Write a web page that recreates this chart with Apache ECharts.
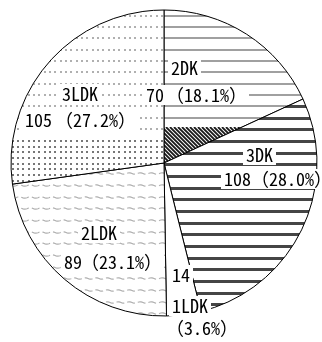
<!DOCTYPE html>
<html><head><meta charset="utf-8">
<script src="https://cdn.jsdelivr.net/npm/echarts@6/dist/echarts.min.js"></script>
<style>html,body{margin:0;padding:0;background:#fff}#c{width:322px;height:342px}</style>
</head><body><div id="c"></div>
<script>
// ---- data ----
const categories = ['2DK', '3DK', '1LDK', '2LDK', '3LDK'];
const counts = [70, 108, 14, 89, 105];

// ---- layout / style ----
const W = 322, H = 342;
const CX = 164, CY = 163, R = 153;
const FONT = "'Noto Sans Mono CJK JP','Noto Sans CJK JP',sans-serif";
// label anchor positions (left, middle) per category
const namePos  = [[168, 68], [243, 155], [169, 306], [78, 233], [59, 94]];
const valuePos = [[143, 95], [221, 179], [169, 275], [61, 262], [22, 120]];
const pctPos   = [[166, 95], [251, 179], [166, 328], [81, 262], [55, 120]];

function mk(draw) {
  const c = document.createElement('canvas');
  c.width = W; c.height = H;
  const g = c.getContext('2d');
  g.fillStyle = '#fff'; g.fillRect(0, 0, W, H);
  draw(g);
  return c;
}
const hatchTop = CY - 36, denseTop = CY - 23;
const pat2DK = mk(g => {
  g.fillStyle = '#a0a0a0';
  for (let y = 14.5; y < hatchTop - 4; y += 11.35) g.fillRect(0, Math.round(y), W, 2);
  g.save(); g.beginPath(); g.rect(0, hatchTop, W, H - hatchTop); g.clip();
  g.strokeStyle = '#1a1a1a'; g.lineWidth = 1.8;
  for (let k = -H; k < W; k += 4) { g.beginPath(); g.moveTo(k, hatchTop); g.lineTo(k + H, hatchTop + H); g.stroke(); }
  g.restore();
});
const pat3DK = mk(g => {
  g.fillStyle = '#454545';
  for (let y = 105 - 11.67 * 9; y < H; y += 11.67) g.fillRect(0, Math.round(y), W, 3);
});
const pat1LDK = mk(g => {});
const pat2LDK = mk(g => {
  g.strokeStyle = '#b0b0b0'; g.lineWidth = 1.2; g.setLineDash([8, 3]);
  for (let y = 185 - 11.67 * 3; y < H; y += 11.67) {
    g.beginPath();
    for (let x = 0; x <= W; x += 1) {
      const yy = Math.round(y) + 0.5 + 0.7 * Math.sin(x * 2 * Math.PI / 11);
      if (x === 0) g.moveTo(x, yy); else g.lineTo(x, yy);
    }
    g.stroke();
  }
});
const pat3LDK = mk(g => {
  g.fillStyle = '#b0b0b0';
  for (let y = 14.5; y < denseTop - 3; y += 11.35)
    for (let x = 1; x < W; x += 5.33) g.fillRect(Math.round(x), Math.round(y), 2, 2);
  g.fillStyle = '#777';
  for (let y = denseTop; y < H; y += 5.67)
    for (let x = 1; x < W; x += 5.33) g.fillRect(Math.round(x), Math.round(y), 2, 2);
});
const patterns = [pat2DK, pat3DK, pat1LDK, pat2LDK, pat3LDK];

const chart = echarts.init(document.getElementById('c'), null, {renderer: 'canvas', devicePixelRatio: 1});

const base = {
  type: 'pie', center: [CX, CY], radius: R, startAngle: 90, clockwise: true,
  animation: false, silent: true, avoidLabelOverlap: false, percentPrecision: 1,
  labelLine: {show: false}, emphasis: {disabled: true}
};
const labelStyle = {
  show: true, position: 'inside', fontSize: 18, fontFamily: FONT, color: '#000',
  backgroundColor: '#fff'
};
function layer(pos, fmt, z, padding) {
  return Object.assign({}, base, {
    z: z,
    data: categories.map((n, i) => ({name: n, value: counts[i]})),
    itemStyle: {color: 'rgba(0,0,0,0)', borderWidth: 0},
    label: Object.assign({}, labelStyle, {formatter: fmt, padding: padding}),
    labelLayout: p => ({x: pos[p.dataIndex][0], y: pos[p.dataIndex][1], align: 'left', verticalAlign: 'middle'})
  });
}

chart.setOption({
  backgroundColor: '#fff',
  animation: false,
  series: [
    Object.assign({}, base, {
      z: 1,
      data: categories.map((n, i) => ({name: n, value: counts[i],
        itemStyle: {color: {image: patterns[i], repeat: 'repeat'}}})),
      itemStyle: {borderColor: '#000', borderWidth: 1},
      label: {show: false}
    }),
    layer(pctPos, p => '（' + p.percent.toFixed(1) + '%）', 2, [1, 2, 1, 0]),
    layer(valuePos, p => String(p.value), 3, [1, 3]),
    layer(namePos, p => p.name, 4, [1, 3])
  ]
});
</script></body></html>
